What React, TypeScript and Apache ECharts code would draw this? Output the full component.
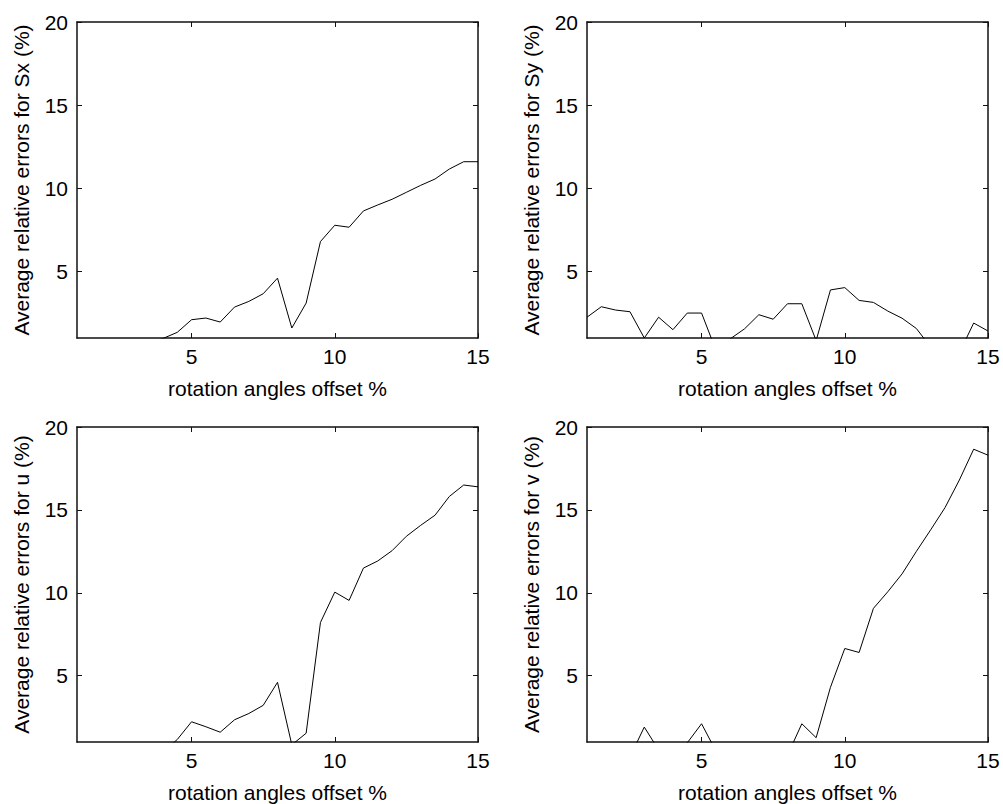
import React, { useEffect, useRef } from "react";
import * as echarts from "echarts";

const xValues = [1, 1.5, 2, 2.5, 3, 3.5, 4, 4.5, 5, 5.5, 6, 6.5, 7, 7.5, 8, 8.5, 9, 9.5, 10, 10.5, 11, 11.5, 12, 12.5, 13, 13.5, 14, 14.5, 15];

const errSx = [0.4, 0.5, 0.4, 0.5, 0.6, 0.7, 0.97, 1.34, 2.1, 2.2, 1.96, 2.86, 3.2, 3.66, 4.6, 1.6, 3.1, 6.8, 7.78, 7.66, 8.64, 9.0, 9.34, 9.76, 10.18, 10.56, 11.16, 11.6, 11.6];
const errSy = [2.25, 2.88, 2.68, 2.58, 1.0, 2.25, 1.5, 2.5, 2.5, 0.27, 0.95, 1.55, 2.4, 2.13, 3.06, 3.06, 0.85, 3.89, 4.03, 3.26, 3.14, 2.62, 2.19, 1.57, 0.45, 0.3, 0.1, 1.9, 1.42];
const errU = [0.3, 0.4, 0.3, 0.4, 0.5, 0.6, 0.4, 1.15, 2.22, 1.92, 1.59, 2.34, 2.72, 3.21, 4.6, 0.83, 1.53, 8.21, 10.04, 9.54, 11.49, 11.92, 12.54, 13.41, 14.07, 14.68, 15.81, 16.5, 16.39];
const errV = [0.2, 0.3, 0.2, 0.1, 1.9, 0.52, 0.3, 0.95, 2.1, 0.46, 0.3, 0.2, 0.3, 0.2, 0.2, 2.1, 1.26, 4.3, 6.64, 6.4, 9.06, 10.06, 11.14, 12.5, 13.8, 15.14, 16.8, 18.66, 18.3];

const xTicks = [5, 10, 15];
const yTicks = [5, 10, 15, 20];
const xTitle = "rotation angles offset %";
const yTitles = [
  "Average relative errors for Sx (%)",
  "Average relative errors for Sy (%)",
  "Average relative errors for u (%)",
  "Average relative errors for v (%)",
];
const seriesList = [errSx, errSy, errU, errV];

const FONT = "'Liberation Sans', Arial, Helvetica, sans-serif";

export default function App() {
  const ref = useRef<HTMLDivElement>(null);
  useEffect(() => {
    if (!ref.current) return;
    const chart = echarts.init(ref.current, null, { renderer: "svg" });
    const grids = [
      { left: 77, top: 22, width: 401, height: 316 },
      { left: 587, top: 22, width: 401, height: 316 },
      { left: 77, top: 427, width: 401, height: 316 },
      { left: 587, top: 427, width: 401, height: 316 },
    ];
    const lineStyle = { color: "#111", width: 1.5 };
    const xAxis: any[] = [];
    const yAxis: any[] = [];
    const series: any[] = [];
    grids.forEach((g, i) => {
      xAxis.push({
        type: "value",
        gridIndex: i,
        min: 1,
        max: 15,
        position: "bottom",
        axisLine: { show: true, onZero: false, lineStyle },
        axisTick: { show: true, inside: true, length: 5, customValues: xTicks, lineStyle: { color: "#111", width: 1 } },
        axisLabel: { show: true, customValues: xTicks, margin: 8, color: "#000", fontSize: 21, fontFamily: FONT },
        splitLine: { show: false },
        name: xTitle,
        nameLocation: "middle",
        nameGap: 40,
        nameTextStyle: { color: "#000", fontSize: 21, fontFamily: FONT },
      });
      xAxis.push({
        type: "value",
        gridIndex: i,
        min: 1,
        max: 15,
        position: "top",
        axisLine: { show: true, onZero: false, lineStyle },
        axisTick: { show: true, inside: true, length: 5, customValues: xTicks, lineStyle: { color: "#111", width: 1 } },
        axisLabel: { show: false },
        splitLine: { show: false },
      });
      yAxis.push({
        type: "value",
        gridIndex: i,
        min: 1,
        max: 20,
        position: "left",
        axisLine: { show: true, onZero: false, lineStyle },
        axisTick: { show: true, inside: true, length: 5, customValues: yTicks, lineStyle: { color: "#111", width: 1 } },
        axisLabel: { show: true, customValues: yTicks, margin: 9, color: "#000", fontSize: 21, fontFamily: FONT },
        splitLine: { show: false },
        name: yTitles[i],
        nameLocation: "middle",
        nameGap: 45,
        nameTextStyle: { color: "#000", fontSize: 21, fontFamily: FONT },
      });
      yAxis.push({
        type: "value",
        gridIndex: i,
        min: 1,
        max: 20,
        position: "right",
        axisLine: { show: true, onZero: false, lineStyle },
        axisTick: { show: true, inside: true, length: 5, customValues: yTicks, lineStyle: { color: "#111", width: 1 } },
        axisLabel: { show: false },
        splitLine: { show: false },
      });
      series.push({
        type: "line",
        xAxisIndex: i * 2,
        yAxisIndex: i * 2,
        data: xValues.map((x, k) => [x, seriesList[i][k]]),
        showSymbol: false,
        symbol: "none",
        clip: true,
        lineStyle: { color: "#000", width: 1 },
      });
    });
    chart.setOption({
      animation: false,
      backgroundColor: "#fff",
      grid: grids.map((g) => ({ ...g, containLabel: false })),
      xAxis,
      yAxis,
      series,
    });
    return () => chart.dispose();
  }, []);
  return (
    <div
      ref={ref}
      style={{ position: "fixed", left: 0, top: 0, width: 1003, height: 804, background: "#fff" }}
    />
  );
}
